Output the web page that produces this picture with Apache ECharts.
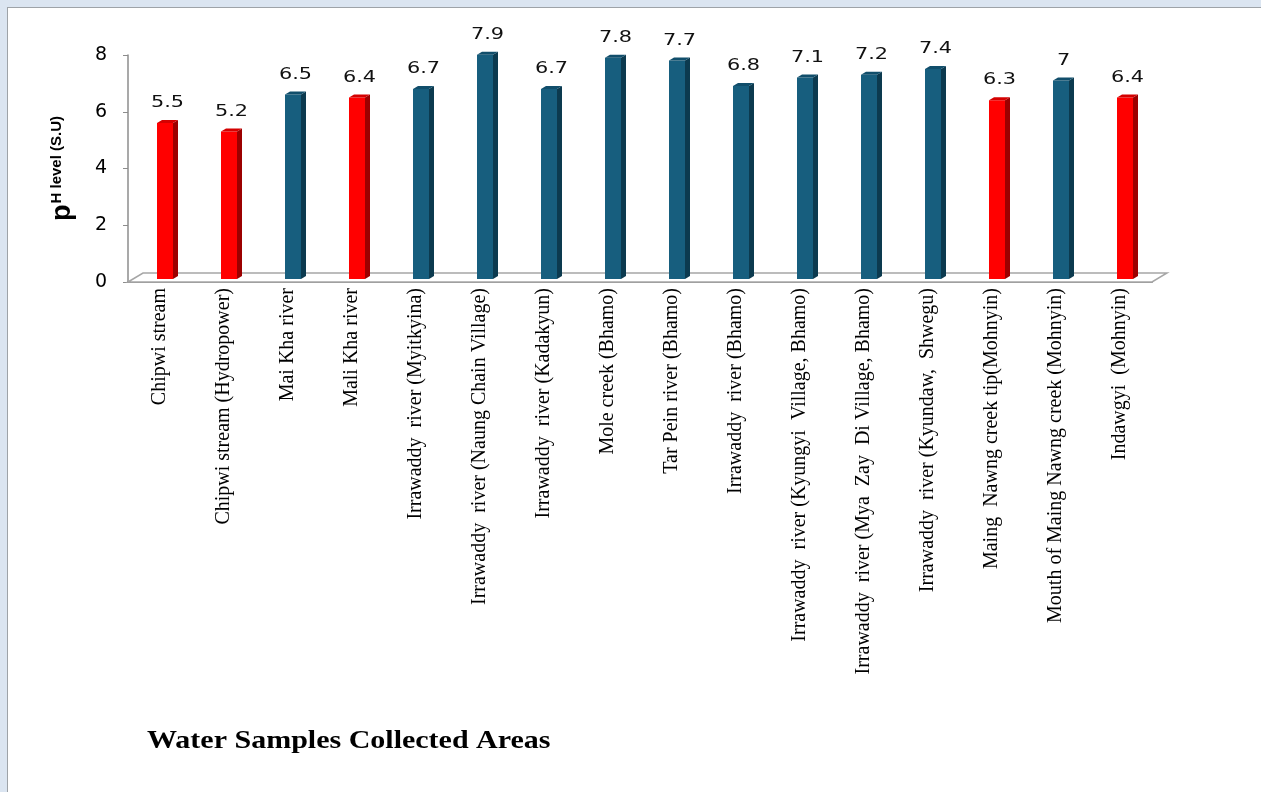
<!DOCTYPE html>
<html>
<head>
<meta charset="utf-8">
<script src="https://cdn.jsdelivr.net/npm/echarts@6/dist/echarts.min.js"></script>
<style>
html,body{margin:0;padding:0;width:1261px;height:792px;overflow:hidden;background:#dbe5f1;}
#panel{position:absolute;left:7px;top:7px;width:1300px;height:840px;background:#fff;border-left:1px solid #9ea3a8;border-top:1px solid #9ea3a8;}
#chart{position:absolute;left:0;top:0;width:1261px;height:792px;}
</style>
</head>
<body>
<div id="panel"></div>
<div id="chart"></div>
<script>
const categories = [
  'Chipwi stream',
  'Chipwi stream (Hydropower)',
  'Mai Kha river',
  'Mali Kha river',
  'Irrawaddy  river (Myitkyina)',
  'Irrawaddy  river (Naung Chain Village)',
  'Irrawaddy  river (Kadakyun)',
  'Mole creek (Bhamo)',
  'Tar Pein river (Bhamo)',
  'Irrawaddy  river (Bhamo)',
  'Irrawaddy  river (Kyungyi  Village, Bhamo)',
  'Irrawaddy  river (Mya  Zay  Di Village, Bhamo)',
  'Irrawaddy  river (Kyundaw,  Shwegu)',
  'Maing  Nawng creek tip(Mohnyin)',
  'Mouth of Maing Nawng creek (Mohnyin)',
  'Indawgyi  (Mohnyin)'
];
const phValues = [5.5, 5.2, 6.5, 6.4, 6.7, 7.9, 6.7, 7.8, 7.7, 6.8, 7.1, 7.2, 7.4, 6.3, 7, 6.4];
const barGroup = ['red','red','blue','red','blue','blue','blue','blue','blue','blue','blue','blue','blue','red','blue','red'];
const yTicks = [0, 2, 4, 6, 8];
const titleText = 'Water Samples Collected Areas';

const palette = {
  red:  {front:'#ff0000', side:'#9c0000', top:'#d40000'},
  blue: {front:'#175e7e', side:'#0c3a4f', top:'#114e6b'}
};

const chart = echarts.init(document.getElementById('chart'), null, {renderer:'canvas'});

const barData = phValues.map((v, i) => [i, v, barGroup[i] === 'red' ? 1 : 0]);

const option = {
  backgroundColor: 'transparent',
  animation: false,
  graphic: [{
    type: 'text',
    x: 147,
    y: 742,
    scaleX: 1.2,
    style: {
      text: titleText,
      fontFamily: 'Liberation Serif', fontWeight: 'bold', fontSize: 25,
      fill: '#000', verticalAlign: 'middle'
    }
  }],
  grid: {left: 128, right: 109, top: 55, bottom: 510, containLabel: false},
  xAxis: {
    type: 'category',
    data: categories,
    axisLine: {show: true, lineStyle: {color: '#8c8c8c', width: 2}},
    axisTick: {show: false},
    axisLabel: {
      rotate: 90,
      interval: 0,
      margin: 6,
      fontFamily: 'Liberation Serif',
      fontSize: 20,
      color: '#000'
    }
  },
  yAxis: {
    type: 'value',
    min: yTicks[0],
    max: yTicks[yTicks.length - 1],
    interval: 2,
    splitLine: {show: false},
    axisLine: {show: true, lineStyle: {color: '#8c8c8c', width: 1.5}},
    axisTick: {show: true, length: 5, lineStyle: {color: '#8c8c8c'}},
    axisLabel: {margin: 21, fontFamily: 'DejaVu Sans', fontSize: 19, color: '#000'},
    name: '{p|p}{s|H level (S.U)}',
    nameLocation: 'middle',
    nameRotate: 90,
    nameGap: 52,
    nameTextStyle: {
      rich: {
        p: {fontFamily: 'Liberation Sans', fontWeight: 'bold', fontSize: 27, color: '#000', verticalAlign: 'bottom'},
        s: {fontFamily: 'Liberation Sans', fontWeight: 'bold', fontSize: 15, color: '#000', verticalAlign: 'top', padding: [0, 0, 0, 1]}
      }
    }
  },
  series: [
    {
      type: 'custom',
      z: 1,
      data: [[0, 0]],
      renderItem: function (params, api) {
        const cs = params.coordSys;
        const x0 = cs.x, yb = cs.y + cs.height, x1 = cs.x + cs.width;
        const dx = 15, dy = 9;
        return {
          type: 'polygon',
          shape: {points: [[x0, yb], [x0 + dx, yb - dy], [x1 + dx, yb - dy], [x1, yb]]},
          style: {fill: '#ffffff', stroke: '#a6a6a6', lineWidth: 1.5}
        };
      }
    },
    {
      type: 'custom',
      z: 2,
      data: barData,
      renderItem: function (params, api) {
        const i = api.value(0), v = api.value(1), isRed = api.value(2) === 1;
        const col = isRed ? palette.red : palette.blue;
        const p0 = api.coord([i, 0]);
        const p1 = api.coord([i, v]);
        const c = p0[0];
        const dx = 5, dy = 3;
        const fl = c - 3, fr = c + 13;
        const yb = p0[1] - 3, yt = p1[1] - 3;
        return {
          type: 'group',
          children: [
            {type: 'rect', shape: {x: fl, y: yt, width: fr - fl, height: yb - yt}, style: {fill: col.front}},
            {type: 'polygon', shape: {points: [[fr, yt], [fr + dx, yt - dy], [fr + dx, yb - dy], [fr, yb]]}, style: {fill: col.side}},
            {type: 'polygon', shape: {points: [[fl, yt], [fl + dx, yt - dy], [fr + dx, yt - dy], [fr, yt]]}, style: {fill: col.top}},
            {type: 'text', x: (fl + fr + dx) / 2, y: yt - 20, scaleX: 1.3, style: {
              x: 0, y: 0,
              text: String(phValues[i]),
              align: 'center', verticalAlign: 'middle',
              fontFamily: 'DejaVu Sans', fontSize: 16, fill: '#111'
            }}
          ]
        };
      }
    }
  ]
};
chart.setOption(option);
</script>
</body>
</html>
